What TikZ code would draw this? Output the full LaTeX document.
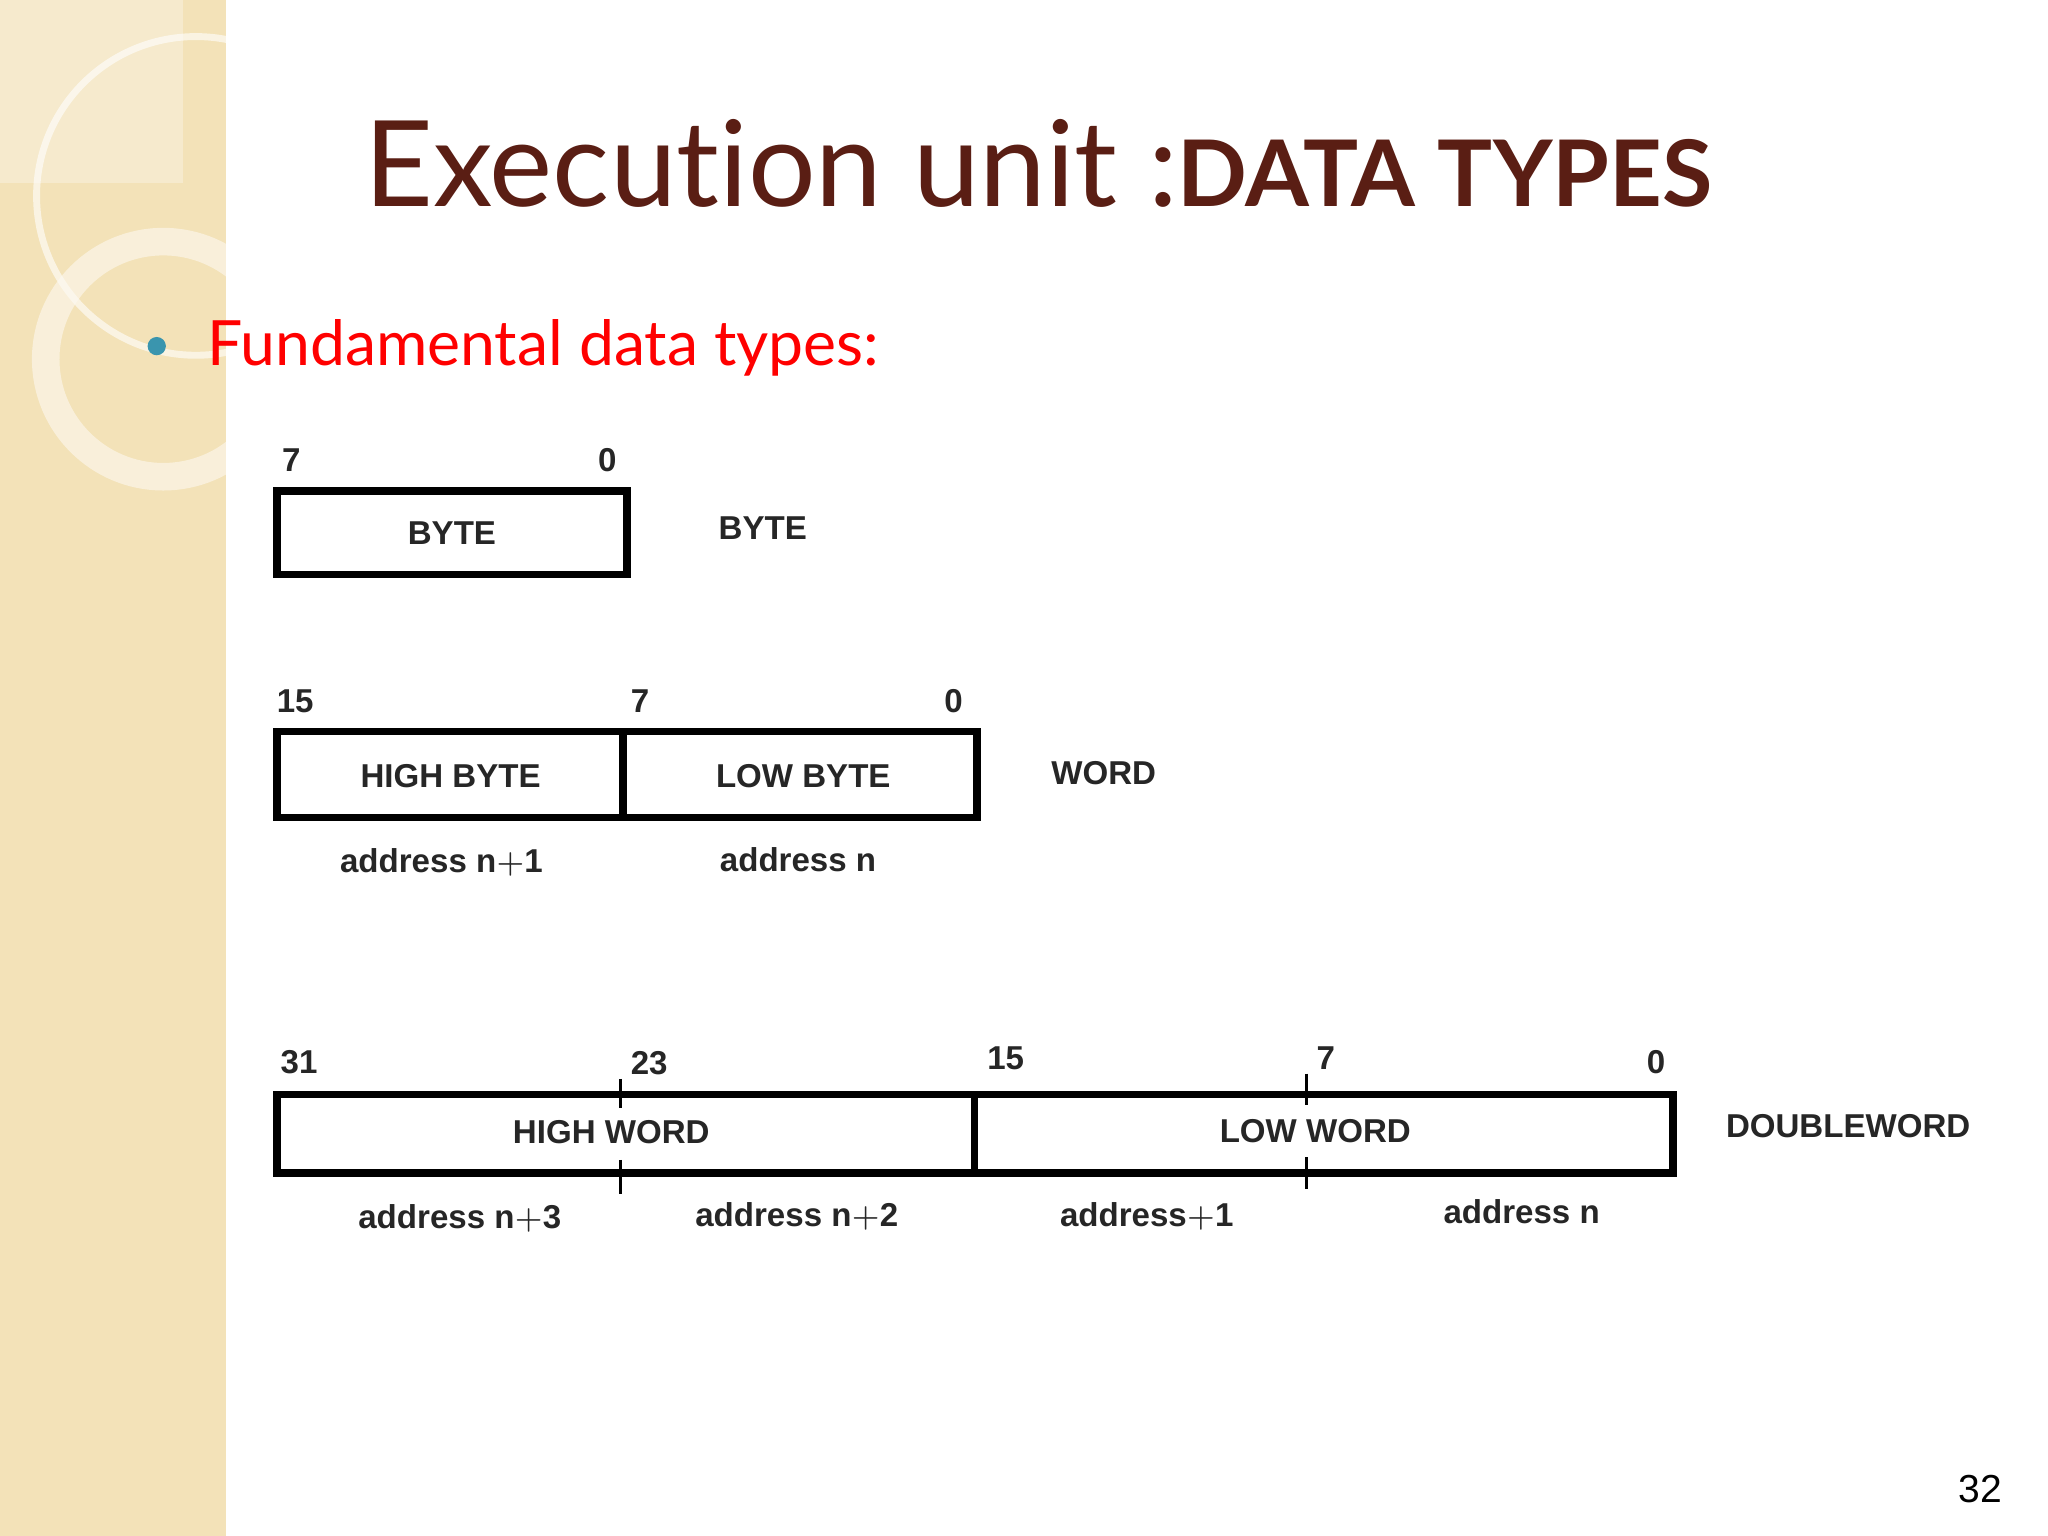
\documentclass[tikz,border=0pt]{standalone}
\usepackage{fontspec}
\setmainfont{Liberation Sans}
\newfontfamily\titlefont[Ligatures=NoCommon]{Lato}
\definecolor{beige}{HTML}{F3E2B8}
\definecolor{titlec}{HTML}{5A1E14}
\definecolor{teal}{HTML}{3A95AE}
\tikzset{
  reg/.style={draw=black,line width=1.6pt},
  lbl/.style={font=\fontsize{7.2}{9}\selectfont\bfseries,inner sep=0pt,text=black!85},
}
\begin{document}
\begin{tikzpicture}[x=0.01cm,y=-0.01cm]
\useasboundingbox (0,0) rectangle (1568,1176);
\fill[white] (0,0) rectangle (1568,1176);
\fill[beige] (0,0) rectangle (173,1176);
\fill[white,opacity=0.3] (0,0) rectangle (140,140);
\begin{scope}
\clip (0,0) rectangle (173,1176);
\draw[white,opacity=0.6,line width=1.5pt] (150,150) circle (122);
\draw[white!80!beige,opacity=0.6,line width=6pt] (125,275) circle (90);
\end{scope}
\node[font=\titlefont\fontsize{26}{30}\selectfont,text=titlec,anchor=base west,inner sep=0pt] (title) at (278,158)
  {Execut{}ion unit :\textbf{\fontsize{20}{24}\selectfont DATA TYPES}};
\fill[teal] (120,265) circle (7);
\node[font=\titlefont\fontsize{13.6}{16}\selectfont,text=red,anchor=base west,inner sep=0pt] (sub) at (158,280) {Fundamental data types:};
% BYTE
\draw[reg] (212,376) rectangle (480,440);
\node[lbl] (b1) at (346,408) {BYTE};
\node[lbl] (b7) at (223,352) {7};
\node[lbl] (b0) at (465,352) {0};
\node[lbl] (bn) at (584,404) {BYTE};
% WORD
\draw[reg] (212,560) rectangle (748,626);
\draw[reg] (477,560) -- (477,626);
\node[lbl] (hb) at (345,594) {HIGH BYTE};
\node[lbl] (lb) at (615,594) {LOW BYTE};
\node[lbl] (w15) at (226,537) {15};
\node[lbl] (w7) at (490,537) {7};
\node[lbl] (w0) at (730,537) {0};
\node[lbl] (wa1) at (338,660) {address n$+$1};
\node[lbl] (wa0) at (611,658) {address n};
\node[lbl] (wn) at (845,592) {WORD};
% DOUBLEWORD
\draw[reg] (212,838) rectangle (1281,898);
\draw[reg] (746,838) -- (746,898);
\draw[line width=0.6pt] (475,826) -- (475,848) (475,888) -- (475,914);
\draw[line width=0.6pt] (1000,822) -- (1000,846) (1000,886) -- (1000,910);
\node[lbl] (hw) at (468,867) {HIGH WORD};
\node[lbl] (lw) at (1007,866) {LOW WORD};
\node[lbl] (d31) at (229,813) {31};
\node[lbl] (d23) at (497,814) {23};
\node[lbl] (d15) at (770,810) {15};
\node[lbl] (d7) at (1015,810) {7};
\node[lbl] (d0) at (1268,813) {0};
\node[lbl] (da3) at (352,933) {address n$+$3};
\node[lbl] (da2) at (610,931) {address n$+$2};
\node[lbl] (da1) at (878,931) {address$+$1};
\node[lbl] (da0) at (1165,928) {address n};
\node[lbl] (dn) at (1415,862) {DOUBLEWORD};
\node[font=\fontsize{8.5}{10}\selectfont,inner sep=0pt] (pg) at (1516,1140) {32};
\end{tikzpicture}
\end{document}
